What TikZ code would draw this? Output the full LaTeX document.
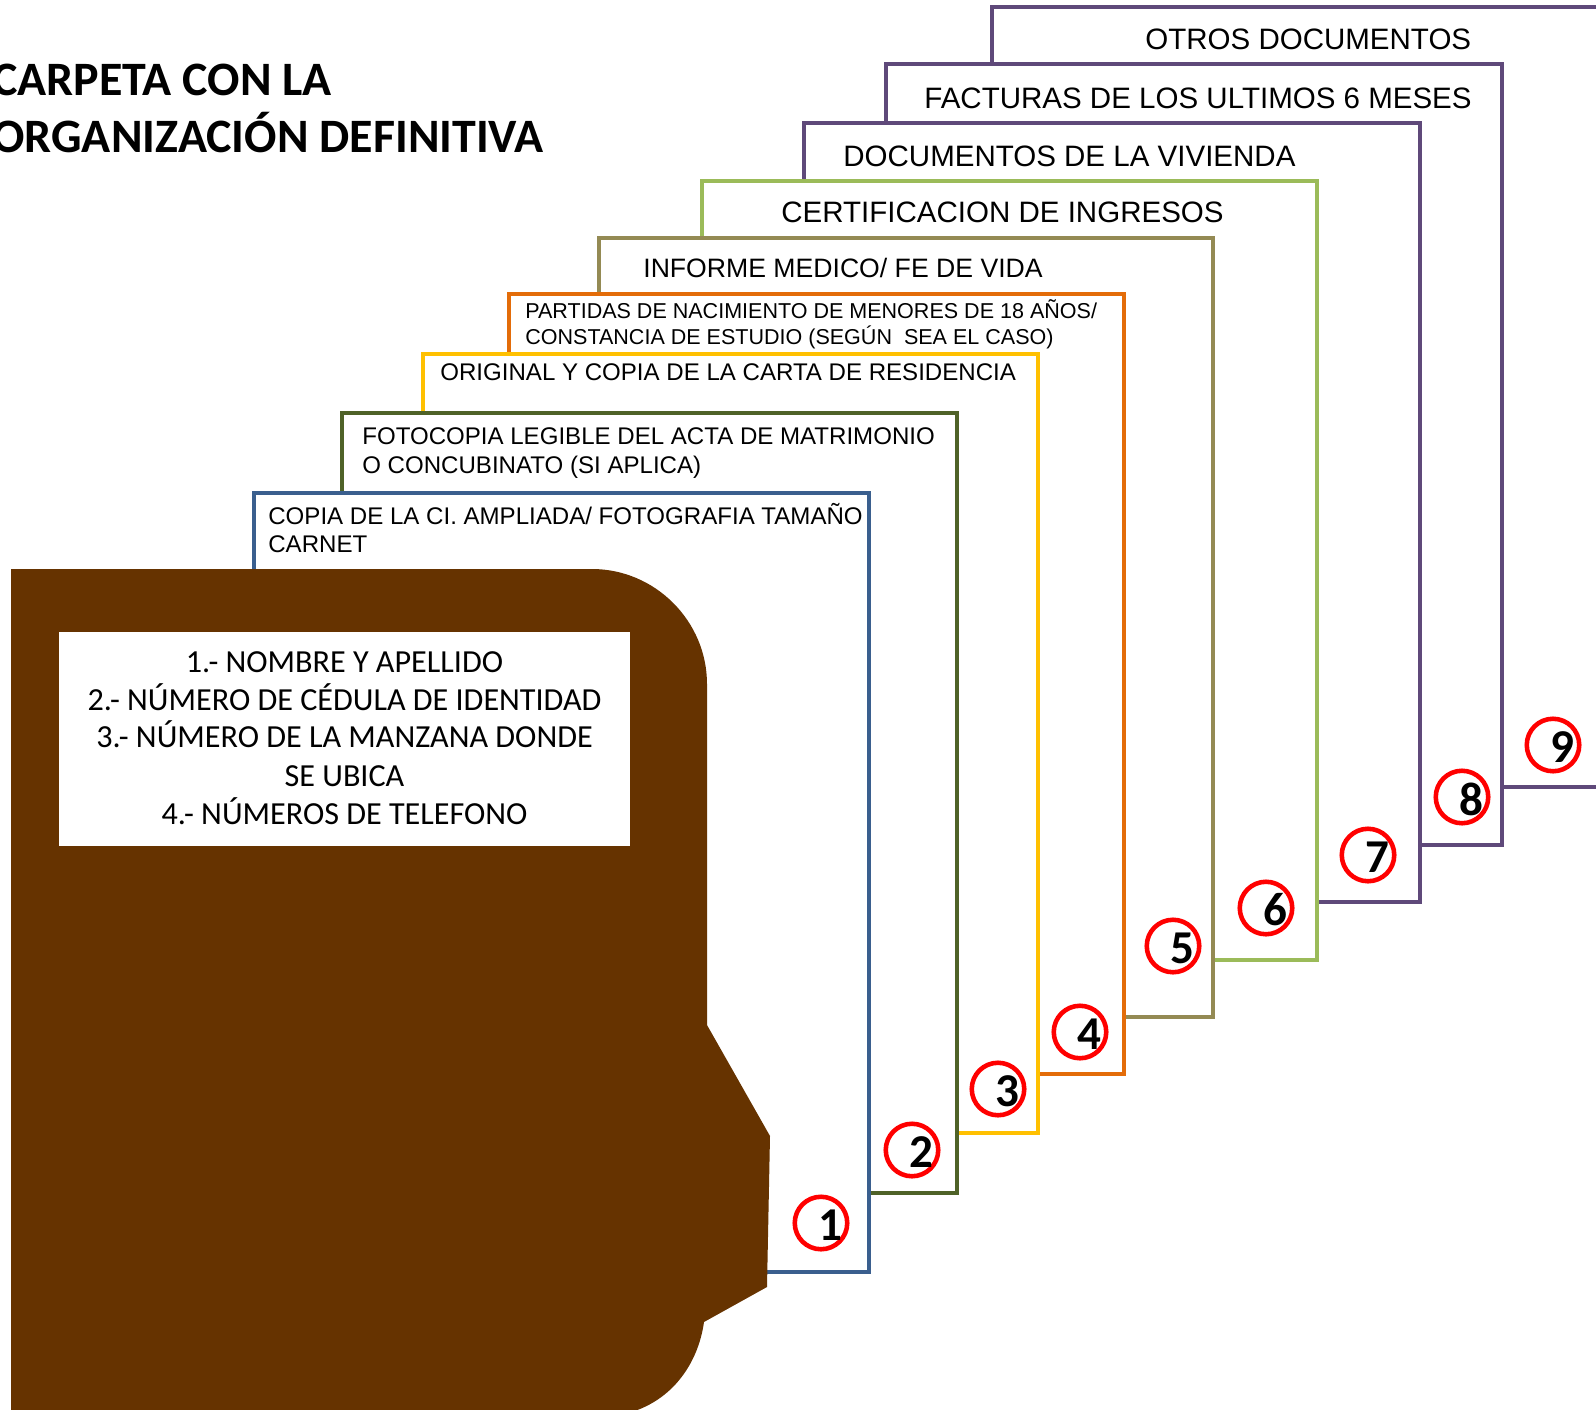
\documentclass[tikz,border=0pt]{standalone}
\usepackage{fontspec}
\setmainfont{Liberation Sans}
\newfontfamily\calfont{Carlito}
\definecolor{blu}{HTML}{3A5F8E}
\definecolor{dgreen}{HTML}{4F6228}
\definecolor{gold}{HTML}{FFC000}
\definecolor{orng}{HTML}{E36C09}
\definecolor{khaki}{HTML}{948A54}
\definecolor{lgreen}{HTML}{9BBB59}
\definecolor{purp}{HTML}{5F497A}
\definecolor{folderbrown}{HTML}{663300}
\begin{document}
\begin{tikzpicture}[x=0.02cm,y=-0.02cm,
  sheet/.style={line width=2.55pt,fill=white},
  stxt/.style={anchor=base west,inner sep=0pt},
  fbig/.style={font=\fontsize{16.8}{20}\selectfont},
  fmid/.style={font=\fontsize{15.15}{18}\selectfont},
  fsmall/.style={font=\fontsize{13.7}{16}\selectfont},
  ftiny/.style={font=\fontsize{12.25}{14.5}\selectfont},
  ring/.style={circle,draw=red,line width=2.6pt,minimum size=1.05cm,inner sep=0pt},
  digit/.style={inner sep=0pt,font=\calfont\bfseries\fontsize{26.8}{30}\selectfont},
  lbl/.style={anchor=base,inner sep=0pt,font=\calfont\fontsize{18.3}{21.5}\selectfont},
  ttl/.style={anchor=base west,inner sep=0pt,font=\calfont\bfseries\fontsize{27.3}{32}\selectfont}
]
\useasboundingbox (0,0) rectangle (1596,1410);
\clip (0,0) rectangle (1596,1410);
\fill[white] (0,0) rectangle (1596,1410);

% sheets, back to front
\draw[sheet,draw=purp]   (992,7)   rectangle (1607,787);
\draw[sheet,draw=purp]   (886,64)  rectangle (1502,845);
\draw[sheet,draw=purp]   (804,123) rectangle (1420,902);
\draw[sheet,draw=lgreen] (702,181) rectangle (1317,960);
\draw[sheet,draw=khaki]  (599,238) rectangle (1213,1017);
\draw[sheet,draw=orng]   (509,294) rectangle (1124,1074);
\draw[sheet,draw=gold]   (423,354) rectangle (1038,1133);
\draw[sheet,draw=dgreen] (342,413) rectangle (957,1193);
\draw[sheet,draw=blu]    (254,493) rectangle (869,1272);

% sheet texts
\node[stxt,fbig] (t9) at (1145,49) {OTROS DOCUMENTOS};
\node[stxt,fbig] (t8) at (924,108) {FACTURAS DE LOS ULTIMOS 6 MESES};
\node[stxt,fbig] (t7) at (843,166) {DOCUMENTOS DE LA VIVIENDA};
\node[stxt,fbig] (t6) at (781,222) {CERTIFICACION DE INGRESOS};
\node[stxt,fmid] (t5) at (643,277) {INFORME MEDICO/ FE DE VIDA};
\node[stxt,ftiny] (t4a) at (525,318) {PARTIDAS DE NACIMIENTO DE MENORES DE 18 AÑOS/};
\node[stxt,ftiny] (t4b) at (525,344) {CONSTANCIA DE ESTUDIO (SEGÚN\ \ SEA EL CASO)};
\node[stxt,fsmall] (t3) at (440,380) {ORIGINAL Y COPIA DE LA CARTA DE RESIDENCIA};
\node[stxt,fsmall] (t2a) at (362,444) {FOTOCOPIA LEGIBLE DEL ACTA DE MATRIMONIO};
\node[stxt,fsmall] (t2b) at (362,473) {O CONCUBINATO (SI APLICA)};
\node[stxt,fsmall] (t1a) at (268,524) {COPIA DE LA CI. AMPLIADA/ FOTOGRAFIA TAMAÑO};
\node[stxt,fsmall] (t1b) at (268,552) {CARNET};

% numbered circles
\foreach \n/\x/\y in {1/821/1223,2/912/1150,3/998/1089,4/1080/1032,5/1173/946,6/1266/908,7/1368/855,8/1462/797,9/1553/745}{
  \node[ring] (c\n) at (\x,\y) {};
  \node[digit] (d\n) at ([xshift=0.18cm,yshift=-0.04cm]c\n.center) {\n};
}

% folder
\fill[folderbrown] (11,569) -- (592,569) .. controls (655,569) and (707,621) .. (707,684)
  -- (707,1025) -- (770,1136) -- (767,1287) -- (704,1322)
  .. controls (698,1365) and (670,1405) .. (620,1415) -- (11,1415) -- cycle;

% label on folder
\node[fill=white,minimum width=11.42cm,minimum height=4.28cm,inner sep=0pt] (lab) at (344.5,739) {};
\node[lbl] (l1) at (344.5,672) {1.- NOMBRE Y APELLIDO};
\node[lbl] (l2) at (344.5,710) {2.- NÚMERO DE CÉDULA DE IDENTIDAD};
\node[lbl] (l3) at (344.5,747) {3.- NÚMERO DE LA MANZANA DONDE};
\node[lbl] (l4) at (344.5,786) {SE UBICA};
\node[lbl] (l5) at (344.5,824) {4.- NÚMEROS DE TELEFONO};

% title
\node[ttl] (ttl1) at (-8,95) {CARPETA CON LA};
\node[ttl] (ttl2) at (-8,152) {ORGANIZACIÓN DEFINITIVA};
\end{tikzpicture}
\end{document}
